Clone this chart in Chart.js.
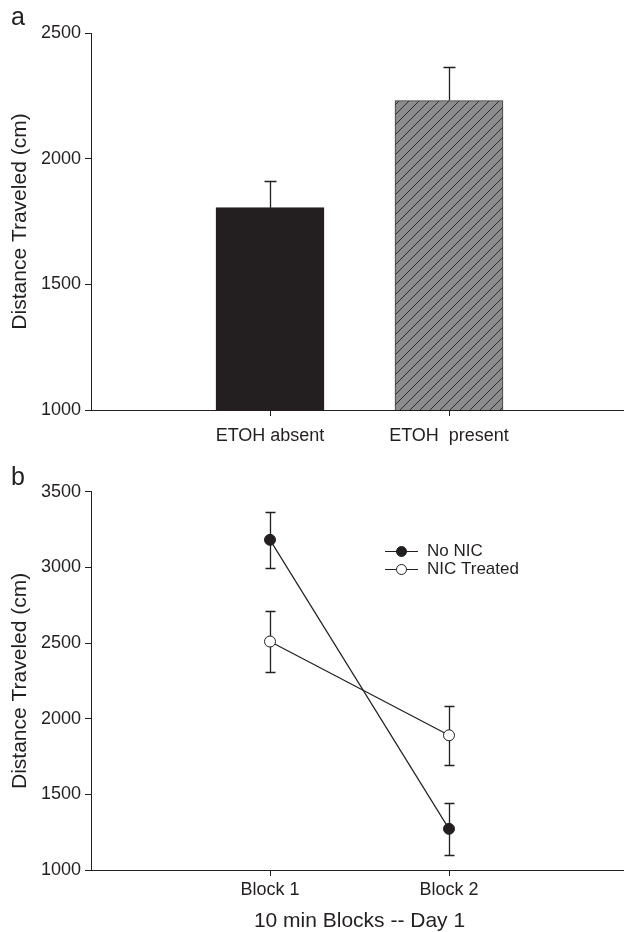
<!DOCTYPE html>
<html><head><meta charset="utf-8">
<script src="https://cdn.jsdelivr.net/npm/chart.js@4.4.1/dist/chart.umd.min.js"></script>
<style>
html,body{margin:0;padding:0;background:#fff;overflow:hidden;width:624px;height:932px;}
#wrapA{position:absolute;left:0;top:0;width:628px;height:460px;}
#wrapB{position:absolute;left:0;top:460px;width:628px;height:472px;}
canvas{display:block;}
</style></head><body>
<div id="wrapA"><canvas id="ca" width="628" height="460"></canvas></div>
<div id="wrapB"><canvas id="cb" width="628" height="472"></canvas></div>
<script>
// ---- Panel a data ----
const barCategories = ['ETOH absent', 'ETOH  present'];
const barMeans = [1805, 2231];
const barErrors = [108, 133];
const yTicksA = [1000, 1500, 2000, 2500];

// ---- Panel b data ----
const blockCategories = ['Block 1', 'Block 2'];
const noNicMeans = [3182, 1272];
const noNicErrors = [184, 173];
const nicMeans = [2510, 1890];
const nicErrors = [203, 193];
const yTicksB = [1000, 1500, 2000, 2500, 3000, 3500];

const INK = '#231f20';
const FONT = "'Liberation Sans', Arial, Helvetica, sans-serif";
Chart.defaults.font.family = FONT;
Chart.defaults.color = INK;

function hatchPattern(ctx) {
  const s = 10, c = document.createElement('canvas');
  c.width = s; c.height = s;
  const g = c.getContext('2d');
  g.fillStyle = '#8c8c8e'; g.fillRect(0, 0, s, s);
  g.strokeStyle = '#2e2e2e'; g.lineWidth = 1;
  g.beginPath();
  g.moveTo(0, s); g.lineTo(s, 0);
  g.moveTo(-2, 2); g.lineTo(2, -2);
  g.moveTo(s - 2, s + 2); g.lineTo(s + 2, s - 2);
  g.stroke();
  return ctx.createPattern(c, 'repeat');
}

const panelLetter = {
  id: 'panelLetter',
  afterDraw(chart, args, opts) {
    const ctx = chart.ctx;
    ctx.save();
    ctx.font = '25px ' + FONT;
    ctx.fillStyle = INK;
    ctx.textBaseline = 'alphabetic';
    ctx.textAlign = 'left';
    ctx.fillText(opts.text, 11, 25);
    ctx.restore();
  }
};

const errA = {
  id: 'errA',
  afterDatasetsDraw(chart) {
    const ctx = chart.ctx, y = chart.scales.y;
    const meta = chart.getDatasetMeta(0);
    ctx.save();
    ctx.strokeStyle = INK; ctx.lineWidth = 1.3;
    barMeans.forEach((m, i) => {
      const px = Math.round(meta.data[i].x) + 0.5;
      const top = Math.round(y.getPixelForValue(m + barErrors[i])) + 0.5;
      const base = y.getPixelForValue(m);
      ctx.beginPath();
      ctx.moveTo(px, base); ctx.lineTo(px, top);
      ctx.moveTo(px - 6, top); ctx.lineTo(px + 6, top);
      ctx.stroke();
    });
    ctx.restore();
  }
};

const caEl = document.getElementById('ca');
const pat = hatchPattern(caEl.getContext('2d'));

function axisCommon() {
  return {
    offset: false,
    grid: { offset: false, drawOnChartArea: false, drawTicks: true, tickLength: 6, color: INK, lineWidth: 1 },
    border: { display: true, color: INK, width: 1 }
  };
}

new Chart(caEl, {
  type: 'bar',
  data: {
    datasets: [{
      data: barMeans.map((v, i) => ({ x: i + 1, y: v })),
      backgroundColor: [INK, pat],
      borderColor: [INK, '#3a3a3a'],
      borderWidth: 1,
      barThickness: 108
    }]
  },
  options: {
    responsive: false, animation: false, devicePixelRatio: 1,
    layout: { autoPadding: false, padding: { top: 33, right: 0, bottom: 0, left: 0 } },
    plugins: { legend: { display: false }, tooltip: { enabled: false }, panelLetter: { text: 'a' } },
    scales: {
      x: Object.assign(axisCommon(), {
        type: 'linear', min: 0, max: 3,
        afterBuildTicks: s => { s.ticks = [{ value: 1 }, { value: 2 }]; },
        afterFit: s => { s.height = 50; },
        ticks: { callback: v => barCategories[v - 1], color: INK, font: { size: 18 }, padding: 9, maxRotation: 0 }
      }),
      y: Object.assign(axisCommon(), {
        type: 'linear', min: 1000, max: 2500,
        afterBuildTicks: s => { s.ticks = yTicksA.map(v => ({ value: v })); },
        afterFit: s => { s.width = 91; },
        ticks: { callback: v => String(v), color: INK, font: { size: 18 }, padding: 4 },
        title: { display: true, text: 'Distance Traveled (cm)', color: INK, font: { size: 21 }, padding: { top: 8, bottom: 0 } }
      })
    }
  },
  plugins: [panelLetter, errA]
});

// ---- Panel b ----
const errB = {
  id: 'errB',
  beforeDatasetsDraw(chart) {
    const ctx = chart.ctx, y = chart.scales.y;
    const sets = [[noNicMeans, noNicErrors], [nicMeans, nicErrors]];
    ctx.save();
    ctx.strokeStyle = INK; ctx.lineWidth = 1.3;
    sets.forEach(([means, errs], d) => {
      const meta = chart.getDatasetMeta(d);
      means.forEach((m, i) => {
        const px = Math.round(meta.data[i].x) + 0.5;
        const top = Math.round(y.getPixelForValue(m + errs[i])) + 0.5;
        const bot = Math.round(y.getPixelForValue(m - errs[i])) + 0.5;
        ctx.beginPath();
        ctx.moveTo(px, top); ctx.lineTo(px, bot);
        ctx.moveTo(px - 5, top); ctx.lineTo(px + 5, top);
        ctx.moveTo(px - 5, bot); ctx.lineTo(px + 5, bot);
        ctx.stroke();
      });
    });
    ctx.restore();
  }
};

const legendB = {
  id: 'legendB',
  afterDraw(chart) {
    const ctx = chart.ctx;
    ctx.save();
    chart.data.datasets.forEach((ds, i) => {
      const yy = Math.round(91 + i * 18.4) + 0.5;
      ctx.strokeStyle = ds.borderColor; ctx.lineWidth = 1.2;
      ctx.beginPath(); ctx.moveTo(385, yy); ctx.lineTo(418, yy); ctx.stroke();
      ctx.beginPath(); ctx.arc(401.5, yy, 5, 0, Math.PI * 2);
      ctx.fillStyle = ds.pointBackgroundColor; ctx.fill();
      ctx.strokeStyle = ds.pointBorderColor; ctx.lineWidth = 1; ctx.stroke();
      ctx.fillStyle = INK; ctx.font = '17px ' + FONT;
      ctx.textBaseline = 'middle'; ctx.textAlign = 'left';
      ctx.fillText(ds.label, 427, yy);
    });
    ctx.restore();
  }
};

new Chart(document.getElementById('cb'), {
  type: 'line',
  data: {
    datasets: [
      { label: 'No NIC', data: noNicMeans.map((v, i) => ({ x: i + 1, y: v })),
        borderColor: INK, borderWidth: 1.2, tension: 0,
        pointRadius: 5.5, pointBackgroundColor: INK, pointBorderColor: INK, pointBorderWidth: 1 },
      { label: 'NIC Treated', data: nicMeans.map((v, i) => ({ x: i + 1, y: v })),
        borderColor: INK, borderWidth: 1.2, tension: 0,
        pointRadius: 5.5, pointBackgroundColor: '#ffffff', pointBorderColor: INK, pointBorderWidth: 1 }
    ]
  },
  options: {
    responsive: false, animation: false, devicePixelRatio: 1,
    layout: { autoPadding: false, padding: { top: 31.7, right: 0, bottom: 0, left: 0 } },
    plugins: { legend: { display: false }, tooltip: { enabled: false }, panelLetter: { text: 'b' } },
    scales: {
      x: Object.assign(axisCommon(), {
        type: 'linear', min: 0, max: 3,
        afterBuildTicks: s => { s.ticks = [{ value: 1 }, { value: 2 }]; },
        afterFit: s => { s.height = 62; },
        ticks: { callback: v => blockCategories[v - 1], color: INK, font: { size: 18 }, padding: 3.5, maxRotation: 0 },
        title: { display: true, text: '10 min Blocks -- Day 1', color: INK, font: { size: 21, lineHeight: 1 }, padding: { top: 0, bottom: 0 } }
      }),
      y: Object.assign(axisCommon(), {
        type: 'linear', min: 1000, max: 3500,
        afterBuildTicks: s => { s.ticks = yTicksB.map(v => ({ value: v })); },
        afterFit: s => { s.width = 91; },
        ticks: { callback: v => String(v), color: INK, font: { size: 18 }, padding: 4 },
        title: { display: true, text: 'Distance Traveled (cm)', color: INK, font: { size: 21 }, padding: { top: 8, bottom: 0 } }
      })
    }
  },
  plugins: [panelLetter, errB, legendB]
});
</script>
</body></html>
